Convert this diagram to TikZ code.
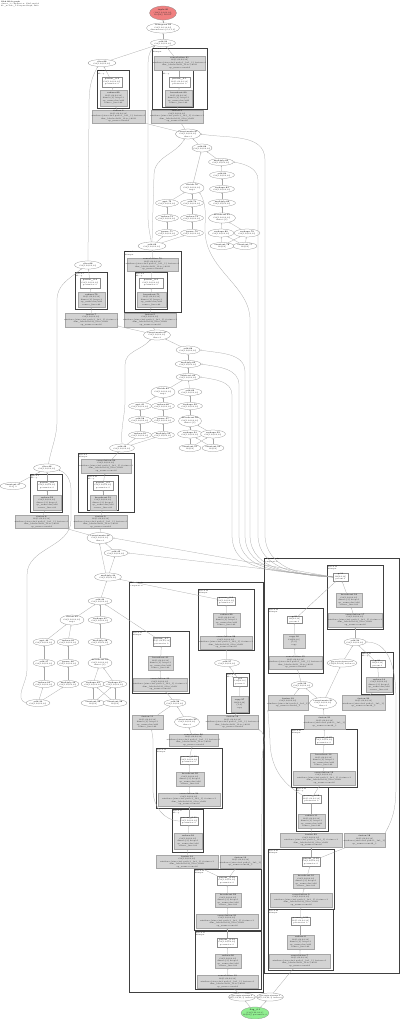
\documentclass[tikz,border=0pt]{standalone}
\usetikzlibrary{shapes.geometric,arrows.meta}
\definecolor{rootred}{HTML}{F08080}
\definecolor{paramgreen}{HTML}{90EE90}
\definecolor{boxgray}{HTML}{D3D3D3}
\newcommand\EL[7]{\node[ell,#1,minimum width=#5pt,minimum height=#6pt] (#2) at (#3,#4) {};\node[tx] (#2t) at (#3,#4) {#7};}
\newcommand\RB[7]{\node[#1,minimum width={(#5-#3)*1pt},minimum height={(#6-#4)*1pt}] (#2) at ({(#3+#5)/2},{(#4+#6)/2}) {};\node[tx] (#2t) at (#2) {#7};}
\newcommand\CL[7]{\draw[#1] (#3,#4) rectangle (#5,#6);\node[clab] (#2) at ({#3+0.8},{#4+0.6}) {#7};}
\newcommand\smf{\fontsize{1.6}{2.1}\selectfont}
\newcommand\Et[1]{\textbf{#1}\\f32[1,64,64,32]}
\newcommand\Ett[2]{\textbf{#1}\\f32[1,64,64,32]\\#2}
\newcommand\Wt[1]{\textbf{#1}\\f32[1,64,64,32]\\parameter 0}
\newcommand\Wn[1]{\textbf{#1}\\f32[64,32]\\param 0}
\newcommand\Gs[1]{\textbf{#1}\\f32[1,64,64,32]\\dims=\{3\} keep=1\\op\_name=bn/add\\source\_line=84}
\newcommand\Gt[1]{\textbf{#1}\\f32[64,32]\\\{1,0\}\\copy}
\newcommand\Gm[1]{\textbf{#1}\\f32[1,64,64,32]\\window=\{size=3x3 pad=1\_1x1\_1\}\\op\_name=conv2d\_1}
\newcommand\Gl[1]{\textbf{#1}\\f32[1,64,64,32]\\window=\{size=3x3 pad=1\_1x1\_1\} feature=1\\dim\_labels=b01f\_01io->b01f\\op\_name=conv2d}
\begin{document}
\begin{tikzpicture}[x=1pt,y=-1pt,
  ell/.style={draw=black!45,line width=0.25pt,ellipse,inner sep=0,fill=white},
  wb/.style={draw=black!45,line width=0.25pt,rectangle,inner sep=0,fill=white},
  gb/.style={draw=black!35,line width=0.25pt,rectangle,inner sep=0,fill=boxgray},
  tx/.style={font=\fontsize{1.95}{2.5}\selectfont,align=center,inner sep=0,text=black!85},
  clus/.style={draw=black!75,line width=0.8pt},
  bigclus/.style={draw=black!75,line width=1pt},
  clab/.style={font=\fontsize{1.7}{2.1}\selectfont,align=left,inner sep=0,anchor=north west},
  edge/.style={draw=black!35,line width=0.25pt,-{Stealth[length=1.3pt,width=1.1pt]}}]
\useasboundingbox (0,0) rectangle (400,1019);
\fill[white] (0,0) rectangle (400,1019);
\node[clab,font=\fontsize{1.7}{2.1}\selectfont] (title) at (1,1) {\textbf{XLA HLO graph}\\cluster\_1 computation: XlaCompiled\\hlo\_module\_1.ComputeGraph, 2019};
% ---------------- clusters
\CL{bigclus}{BLl}{129}{582}{263}{992}{while.9 body\\computation}
\CL{bigclus}{BRl}{264}{558}{399}{973}{while.10 body\\computation}
\CL{clus}{C1l}{152}{48}{207}{109}{fusion.3\\kOutput}
\CL{clus}{C1al}{162}{70}{193}{107}{fusion.2\\kLoop}
\CL{clus}{C2l}{97}{70}{129}{108}{fusion.4\\kLoop}
\CL{clus}{C3l}{124}{251}{181}{312}{fusion.5\\kOutput}
\CL{clus}{C3al}{135}{272}{167}{309}{fusion.6\\kLoop}
\CL{clus}{C4l}{75}{272}{107}{309}{fusion.7\\kLoop}
\CL{clus}{C5l}{30}{474}{62}{512}{fusion.8\\kLoop}
\CL{clus}{C6l}{78}{453}{134}{512}{fusion.9\\kOutput}
\CL{clus}{C6al}{87}{475}{118}{510}{fusion.10\\kLoop}
\CL{clus}{C7l}{132}{631}{189}{693}{fusion.11\\kOutput}
\CL{clus}{C8l}{198}{589}{254}{650}{fusion.12\\kOutput}
\CL{clus}{C9l}{226}{673}{249}{713}{fusion.13\\kLoop}
\CL{clus}{C10l}{156}{748}{222}{808}{fusion.14\\kOutput}
\CL{clus}{C11l}{172}{809}{203}{852}{fusion.15\\kLoop}
\CL{clus}{C12l}{194}{869}{261}{930}{fusion.16\\kOutput}
\CL{clus}{C13l}{195}{931}{261}{989}{fusion.17\\kOutput}
\CL{clus}{C14l}{327}{565}{383}{629}{fusion.18\\kOutput}
\CL{clus}{C15l}{268}{608}{323}{673}{fusion.19\\kOutput}
\CL{clus}{C16l}{361}{652}{393}{694}{fusion.20\\kLoop}
\CL{clus}{C17l}{291}{729}{357}{787}{fusion.21\\kOutput}
\CL{clus}{C18l}{296}{787}{328}{831}{fusion.22\\kLoop}
\CL{clus}{C19l}{268}{849}{334}{909}{fusion.23\\kOutput}
\CL{clus}{C20l}{268}{909}{333}{970}{fusion.24\\kOutput}
% ---------------- ellipses
\EL{fill=rootred}{nin}{163}{13}{27}{14}{\textbf{tuple.95}\\(f32[1,64,64,32],\\f32[64]) ROOT}
\EL{}{e1}{163}{28}{33}{10}{\textbf{transpose.94}\\f32[1,64,32,64]\\dimensions=\{0,2,1,3\}}
\EL{}{e2}{163}{43}{25}{7}{\Et{add.93}}
\EL{}{e3}{102}{63}{28}{7}{\Et{slice.88}}
\EL{}{e4}{188}{134}{25}{10}{\Ett{concatenate.87}{dim=3}}
\EL{}{e5}{202}{148}{20}{8}{\Et{add.86}}
\EL{}{e6}{221}{162}{25}{7}{\Et{multiply.85}}
\EL{}{e7}{222}{175}{25}{7}{\Et{add.84}}
\EL{}{e8}{222}{189}{25}{7}{\Et{reshape.83}}
\EL{}{e9}{222}{203}{27}{7}{\Et{multiply.82}}
\EL{}{e10}{222}{218}{27}{10}{\Ett{broadcast.81}{dims=\{3\}}}
\EL{}{e11}{221}{233}{26}{8}{\Et{reshape.80}}
\EL{}{e12}{247}{233}{26}{8}{\Et{reshape.79}}
\EL{}{e13}{222}{246}{24}{7}{\textbf{constant.78}\\f32[64]}
\EL{}{e14}{245}{246}{24}{7}{\textbf{constant.77}\\f32[64]}
\EL{}{e15}{192}{188}{24}{11}{\Ett{divide.76}{rsqrt}}
\EL{}{e16}{167}{203}{23}{7}{\Et{sqrt.75}}
\EL{}{e17}{192}{203}{23}{7}{\Et{add.74}}
\EL{}{e18}{167}{218}{23}{7}{\Et{reduce.73}}
\EL{}{e19}{192}{218}{23}{7}{\Et{reduce.72}}
\EL{}{e20}{167}{233}{23}{7}{\Et{power.71}}
\EL{}{e21}{192}{233}{23}{7}{\Et{power.70}}
\EL{}{e22}{152}{246}{28}{8}{\Et{add.69}}
\EL{}{e23}{88}{265}{27}{8}{\Et{slice.68}}
\EL{}{e24}{157}{335}{27}{10}{\Ett{concatenate.67}{dim=3}}
\EL{}{e25}{188}{350}{24}{8}{\Et{add.66}}
\EL{}{e26}{188}{364}{26}{7}{\Et{multiply.65}}
\EL{}{e27}{188}{377}{24}{7}{\Et{subtract.64}}
\EL{}{e28}{163}{392}{24}{11}{\Ett{divide.63}{rsqrt}}
\EL{}{e29}{190}{392}{24}{7}{\Et{add.62}}
\EL{}{e30}{140}{406}{23}{7}{\Et{sqrt.61}}
\EL{}{e31}{163}{406}{23}{7}{\Et{reduce.60}}
\EL{}{e32}{190}{406}{25}{7}{\Et{reshape.59}}
\EL{}{e33}{140}{420}{23}{7}{\Et{add.58}}
\EL{}{e34}{163}{420}{23}{7}{\Et{power.57}}
\EL{}{e35}{190}{421}{23}{11}{\Ett{broadcast.56}{dims=\{3\}}}
\EL{}{e36}{140}{435}{23}{7}{\Et{reduce.55}}
\EL{}{e37}{163}{435}{23}{7}{\Et{multiply.54}}
\EL{}{e38}{190}{434}{25}{8}{\Et{reshape.53}}
\EL{}{e39}{213}{434}{25}{8}{\Et{reshape.52}}
\EL{}{e40}{190}{448}{22}{7}{\textbf{constant.51}\\f32[64]}
\EL{}{e41}{213}{448}{22}{7}{\textbf{constant.50}\\f32[64]}
\EL{}{e42}{122}{448}{25}{8}{\Et{add.49}}
\EL{}{e43}{47}{468}{27}{8}{\Et{slice.48}}
\EL{}{e44}{13}{486}{26}{7}{\textbf{constant.47}\\f32[] 0}
\EL{}{e45}{100}{538}{26}{11}{\Ett{concatenate.46}{dim=3}}
\EL{}{e46}{116}{553}{24}{7}{\Et{add.45}}
\EL{}{e47}{108}{577}{27}{8}{\Et{multiply.44}}
\EL{}{e48}{100}{601}{24}{7}{\Et{add.43}}
\EL{}{e49}{72}{620}{24}{10}{\Ett{divide.42}{rsqrt}}
\EL{}{e50}{100}{620}{24}{7}{\Et{reshape.41}}
\EL{}{e51}{44}{642}{22}{7}{\Et{sqrt.40}}
\EL{}{e52}{68}{642}{22}{7}{\Et{reduce.39}}
\EL{}{e53}{100}{642}{24}{7}{\Et{multiply.38}}
\EL{}{e54}{44}{663}{22}{7}{\Et{add.37}}
\EL{}{e55}{68}{663}{22}{7}{\Et{power.36}}
\EL{}{e56}{100}{663}{24}{10}{\Ett{broadcast.35}{dims=\{3\}}}
\EL{}{e57}{44}{684}{22}{7}{\Et{reduce.34}}
\EL{}{e58}{68}{684}{22}{7}{\Et{multiply.33}}
\EL{}{e59}{93}{684}{24}{7}{\Et{reshape.32}}
\EL{}{e60}{115}{684}{24}{7}{\Et{reshape.31}}
\EL{}{e61}{38}{703}{24}{7}{\Et{add.30}}
\EL{}{e62}{93}{703}{24}{7}{\textbf{constant.29}\\f32[64]}
\EL{}{e63}{115}{703}{24}{7}{\textbf{constant.28}\\f32[64]}
\EL{}{e64}{227}{663}{25}{7}{\Et{add.27}}
\EL{}{e65}{175}{703}{22}{7}{\Et{add.26}}
\EL{}{e66}{187}{722}{25}{11}{\Ett{concatenate.25}{dim=3}}
\EL{}{e67}{355}{642}{22}{7}{\Et{add.24}}
\EL{}{e68}{342}{663}{30}{8}{\smf\textbf{get-tuple-element.23}\\f32[64,64,64] index=0}
\EL{}{e69}{302}{685}{22}{7}{\Et{add.22}}
\EL{}{e70}{323}{703}{27}{11}{\Ett{concatenate.21}{dim=3}}
\EL{}{e71}{242}{997}{27}{8}{\smf\textbf{get-tuple-element.2}\\f32[1,64,64,3] index=1}
\EL{}{e72}{270}{997}{27}{8}{\smf\textbf{get-tuple-element.1}\\f32[1,64,64,3] index=0}
\EL{fill=paramgreen}{pout}{255}{1013}{28}{12}{\textbf{Arg\_0.1}\\(f32[1,64,64,3],\\f32[64]) parameter 0}
% ---------------- boxes
\RB{gb}{g1}{154}{56}{205}{70}{\Gl{convolution.91}}
\RB{wb}{w1}{169}{77}{190}{87}{\Wt{param\_0.1}}
\RB{gb}{g2}{165}{90}{192}{106}{\Gs{broadcast.90}}
\RB{gb}{g3}{151}{110}{203}{123}{\Gl{fusion.3}}
\RB{wb}{w2}{102}{77}{122}{87}{\Wt{param\_0.2}}
\RB{gb}{g4}{100}{90}{127}{106}{\Gs{reduce.89}}
\RB{gb}{g5}{92}{110}{145}{123}{\Gl{fusion.4}}
\RB{gb}{g6}{127}{258}{178}{271}{\Gl{convolution.70}}
\RB{wb}{w3}{139}{278}{163}{288}{\Wt{param\_0.3}}
\RB{gb}{g7}{137}{292}{166}{307}{\Gs{broadcast.71}}
\RB{wb}{w4}{80}{278}{100}{288}{\Wt{param\_0.4}}
\RB{gb}{g8}{78}{292}{105}{307}{\Gs{reduce.72}}
\RB{gb}{g9}{65}{313}{117}{327}{\Gl{fusion.7}}
\RB{gb}{g10}{124}{313}{176}{327}{\Gl{fusion.5}}
\RB{gb}{g11}{81}{459}{131}{473}{\Gl{convolution.50}}
\RB{wb}{w6}{93}{481}{113}{490}{\Wt{param\_0.5}}
\RB{gb}{g12}{90}{495}{116}{510}{\Gs{broadcast.51}}
\RB{wb}{w5}{37}{481}{57}{490}{\Wt{param\_0.6}}
\RB{gb}{g12b}{33}{495}{61}{510}{\Gs{reduce.52}}
\RB{gb}{g13}{15}{515}{68}{528}{\Gl{fusion.8}}
\RB{gb}{g14}{74}{515}{127}{528}{\Gl{fusion.9}}
\RB{wb}{w7}{153}{637}{170}{646}{\Wt{param\_0.7}}
\RB{gb}{g15}{148}{656}{173}{670}{\Gs{broadcast.31}}
\RB{gb}{g16}{133}{678}{187}{691}{\Gl{convolution.30}}
\RB{wb}{w8}{217}{597}{235}{605}{\Wt{param\_0.8}}
\RB{gb}{g17}{213}{613}{240}{627}{\Gs{reduce.29}}
\RB{gb}{g18}{200}{636}{252}{649}{\Gl{convolution.28}}
\RB{wb}{w9}{233}{677}{247}{686}{\Wn{p.9}}
\RB{gb}{g19}{231}{696}{248}{712}{\Gt{copy.27}}
\RB{gb}{g20}{132}{715}{163}{729}{\Gs{fusion.11}}
\RB{gb}{g21}{207}{715}{258}{729}{\Gl{fusion.12}}
\RB{gb}{g22}{169}{734}{218}{746}{\Gl{convolution.26}}
\RB{wb}{w10}{180}{756}{198}{764}{\Wt{param\_0.10}}
\RB{gb}{g23}{176}{772}{204}{786}{\Gs{broadcast.25}}
\RB{gb}{g24}{158}{793}{220}{806}{\Gl{convolution.24}}
\RB{wb}{w11}{180}{817}{198}{825}{\Wt{param\_0.11}}
\RB{gb}{g25}{174}{833}{202}{849}{\Gs{reduce.23}}
\RB{gb}{g26}{156}{855}{218}{868}{\Gl{fusion.14}}
\RB{gb}{g27}{220}{855}{261}{868}{\Gm{fusion.13}}
\RB{wb}{w12}{217}{876}{237}{885}{\Wt{param\_0.12}}
\RB{gb}{g28}{215}{893}{241}{907}{\Gs{broadcast.22}}
\RB{gb}{g29}{196}{914}{258}{928}{\Gl{convolution.21}}
\RB{wb}{w13}{217}{938}{237}{947}{\Wt{param\_0.13}}
\RB{gb}{g30}{215}{954}{241}{968}{\Gs{reduce.20}}
\RB{gb}{g31}{197}{975}{258}{988}{\Gl{convolution.19}}
\RB{wb}{w14}{333}{573}{348}{581}{\Wn{p.14}}
\RB{gb}{g32}{336}{593}{362}{607}{\Gs{broadcast.18}}
\RB{gb}{g33}{328}{613}{382}{627}{\Gl{convolution.17}}
\RB{wb}{w15}{287}{616}{302}{623}{\Wn{p.15}}
\RB{gb}{g34}{283}{634}{305}{648}{\Gt{copy.16}}
\RB{gb}{g35}{269}{656}{322}{669}{\Gl{convolution.15}}
\RB{wb}{w16}{370}{660}{385}{667}{\Wn{p.16}}
\RB{gb}{g36}{366}{677}{392}{692}{\Gs{reduce.14}}
\RB{gb}{g37}{268}{695}{308}{710}{\Gm{fusion.19}}
\RB{gb}{g38}{342}{695}{385}{710}{\Gm{fusion.20}}
\RB{gb}{g39}{304}{715}{345}{729}{\Gm{fusion.21}}
\RB{wb}{w17}{315}{737}{333}{744}{\Wt{param\_0.17}}
\RB{gb}{g40}{310}{753}{337}{767}{\Gs{broadcast.13}}
\RB{gb}{g41}{293}{771}{355}{785}{\Gl{convolution.12}}
\RB{wb}{w18}{302}{795}{321}{803}{\Wt{param\_0.18}}
\RB{gb}{g42}{298}{814}{325}{828}{\Gs{reduce.11}}
\RB{gb}{g43}{280}{833}{342}{847}{\Gl{fusion.22}}
\RB{gb}{g44}{344}{833}{385}{847}{\Gm{fusion.18}}
\RB{wb}{w19}{302}{857}{320}{866}{\Wt{param\_0.19}}
\RB{gb}{g45}{293}{874}{319}{888}{\Gs{broadcast.10}}
\RB{gb}{g46}{270}{893}{332}{907}{\Gl{convolution.9}}
\RB{wb}{w20}{291}{917}{310}{925}{\Wt{param\_0.20}}
\RB{gb}{g47}{287}{935}{314}{949}{\Gs{reduce.8}}
\RB{gb}{g48}{269}{954}{330}{968}{\Gl{convolution.7}}
% ---------------- edges
\foreach \a/\b in {e1/nin,e2/e1,g1/e2,w1/g1,g2/w1,g3/g2,e3/e2,w2/e3,g4/w2,g5/g4,e4/g5,e4/g3,e5/e4,e6/e5,e7/e6,e8/e7,e9/e8,e10/e9,e11/e10,e12/e10,e13/e11,e13/e12,e14/e11,e14/e12,
 e15/e5,e16/e15,e17/e15,e18/e16,e19/e17,e20/e18,e21/e19,e22/e20,e22/e21,
 g6/e22,w3/g6,g7/w3,g10/g7,w4/e23,g8/w4,g9/g8,e24/g9,e24/g10,
 e25/e24,e26/e25,e27/e26,e28/e27,e29/e27,e30/e28,e31/e28,e32/e29,e33/e30,e34/e31,e35/e32,e36/e33,e37/e34,e38/e35,e39/e35,e40/e38,e40/e39,e41/e38,e41/e39,
 e42/e36,e42/e37,e44/e43,w5/e43,g12b/w5,g13/g12b,g11/e42,w6/g11,g12/w6,g14/g12,
 e45/g13,e45/g14,e46/e45,e47/e46,e48/e47,e49/e48,e50/e48,e51/e49,e52/e49,e53/e50,e54/e51,e55/e52,e56/e53,e57/e54,e58/e55,e59/e56,e60/e56,e61/e57,e61/e58,e62/e59,e62/e60,e63/e59,e63/e60,
 w8/e47,g17/w8,g18/g17,e64/g18,w9/e64,g19/w9,g21/g19,w7/e48,g15/w7,g16/g15,e65/g16,g20/e65,e66/e65,g22/e66,w10/g22,g23/w10,g24/g23,w11/g24,g25/w11,g26/g25,w12/g26,w12/g27,g28/w12,g29/g28,w13/g29,g30/w13,g31/g30,e71/g31,pout/e71,pout/e72,
 g32/w14,g33/g32,e67/g33,e68/e67,w15/w14,g34/w15,g35/g34,e69/g35,g37/e69,e70/e69,e70/e68,w16/e67,g36/w16,g38/g36,g39/e70,w17/g39,g40/w17,g41/g40,w18/g41,g42/w18,g43/g42,w19/g43,w19/g44,g45/w19,g46/g45,w20/g46,g47/w20,g48/g47,e72/g48}
  {\draw[edge] (\a) -- (\b);}
\draw[edge] (e47.120) -- (e45.-95);
\draw[edge] (e22.100) to[out=100,in=-90] (148,215) -- (148,70) to[out=90,in=-140] (e2.200);
\draw[edge] (e22.north) -- (154,175) to[out=90,in=-120] (e4.235);
\draw[edge] (e23.north) -- (89,110) to[out=90,in=-120] (e3.220);
\draw[edge] (e43.70) to[out=80,in=-90] (57,420) -- (57,300) to[out=90,in=-140] (e23.210);
\draw[edge] (e42.north) to[out=95,in=-90] (125,400) -- (125,365) to[out=90,in=-130] (e24.215);
\draw[edge] (e61.west) to[out=160,in=-90] (27,670) -- (27,575) to[out=90,in=-90] (71,520) -- (71,490) to[out=90,in=-20] (e43.-10);
\draw[edge] (w11.west) to[out=180,in=-90] (153,790) -- (153,740) to[out=90,in=-90] (g20.-60);
\draw[edge] (g27.north east) to[out=90,in=-90] (262,800) -- (262,760) to[out=90,in=-30] (g21.south east);
\draw[edge] (g44.north east) to[out=60,in=-90] (396,780) -- (396,700) to[out=90,in=0] (e67.east);
\draw[edge] (w18.north west) to[out=150,in=-90] (270,740) -- (g37.south west);
\draw[edge] (w14.west) to[out=180,in=-90] (265,535) -- (265,160) to[out=90,in=-10] (e4.east);
\draw[edge] (w14.west) to[out=178,in=-90] (258,535) -- (258,180) to[out=90,in=-10] (e6.east);
\draw[edge] (w14.west) to[out=176,in=-90] (250,535) -- (250,320) .. controls (250,285) and (205,270) .. (205,230) to[out=90,in=-60] (e15.-30);
\draw[edge] (w14.west) to[out=174,in=-90] (245,535) -- (245,372) to[out=90,in=-10] (e25.east);
\draw[edge] (w14.west) to[out=172,in=-90] (239,535) -- (239,385) to[out=90,in=-10] (e26.east);
\draw[edge] (w14.west) to[out=170,in=-90] (232,535) -- (232,395) to[out=90,in=-10] (e27.east);
\draw[edge] (w14.west) -- (e45.east);
\draw[edge] (w14.west) -- (e46.east);
\end{tikzpicture}
\end{document}
